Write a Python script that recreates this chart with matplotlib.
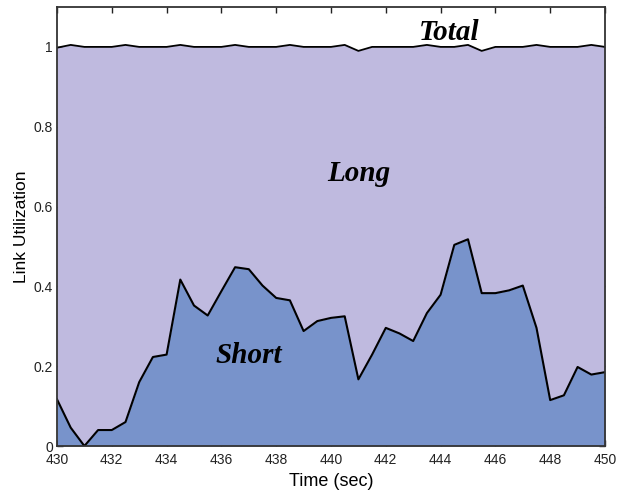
import numpy as np
import matplotlib
matplotlib.use("Agg")
import matplotlib.pyplot as plt
from matplotlib.ticker import FuncFormatter

# time axis, sampled every half second
time_sec = np.arange(430, 450.01, 0.5)

short_util = [0.117, 0.046, 0.0, 0.04, 0.04, 0.06, 0.16, 0.223, 0.229, 0.417,
              0.352, 0.327, 0.388, 0.448, 0.443, 0.402, 0.371, 0.365, 0.288, 0.313,
              0.321, 0.325, 0.167, 0.229, 0.296, 0.282, 0.263, 0.333, 0.379, 0.504,
              0.518, 0.383, 0.383, 0.39, 0.402, 0.296, 0.115, 0.127, 0.198, 0.179,
              0.185]

total_util = [0.998, 1.005, 1.0, 1.0, 1.0, 1.005, 1.0, 1.0, 1.0, 1.005,
              1.0, 1.0, 1.0, 1.005, 1.0, 1.0, 1.0, 1.005, 1.0, 1.0,
              1.0, 1.005, 0.99, 1.0, 1.0, 1.0, 1.0, 1.005, 1.0, 1.0,
              1.005, 0.99, 1.0, 1.0, 1.0, 1.005, 1.0, 1.0, 1.0, 1.005,
              1.0]

x_ticks = list(range(430, 451, 2))
y_ticks = [0, 0.2, 0.4, 0.6, 0.8, 1]

LONG_CLR = "#bfbadf"
SHORT_CLR = "#7893cb"

plt.rcParams['font.family'] = ['Liberation Sans', 'DejaVu Sans']

fig = plt.figure(figsize=(6.17, 4.97), dpi=100)
ax = fig.add_axes([57/617, 51/497, 548/617, 439/497])
ax.set_axisbelow(True)

ax.fill_between(time_sec, short_util, total_util, color=LONG_CLR, lw=0, zorder=1)
ax.fill_between(time_sec, 0, short_util, color=SHORT_CLR, lw=0, zorder=1)
ax.plot(time_sec, short_util, color="black", lw=1.5, zorder=3)
ax.plot(time_sec, total_util, color="black", lw=1.3, zorder=3)

ax.set_xlim(430, 450)
ax.set_ylim(0, 1.1)
ax.set_xticks(x_ticks)
ax.set_yticks(y_ticks)
ax.yaxis.set_major_formatter(FuncFormatter(lambda v, p: f"{v:g}"))
ax.tick_params(direction="in", top=True, right=True, length=4, width=1,
               labelsize=10, colors="#222222")
ax.tick_params(axis="x", pad=5)
ax.tick_params(axis="y", pad=3)
for sp in ax.spines.values():
  sp.set_color("#333333")
  sp.set_linewidth(1.3)
  sp.set_zorder(4)

ax.set_xlabel("Time (sec)", fontsize=13, labelpad=4)
ax.set_ylabel("Link Utilization", fontsize=12.5, labelpad=3)

lbl = dict(family="Liberation Serif", weight="bold", style="italic",
           fontsize=21, ha="center", va="center", zorder=5)
ax.text(444.3, 1.036, "Total", **lbl)
ax.text(441.0, 0.683, "Long", **lbl)
ax.text(437.0, 0.228, "Short", **lbl)

fig.savefig("out.png", dpi=100)
